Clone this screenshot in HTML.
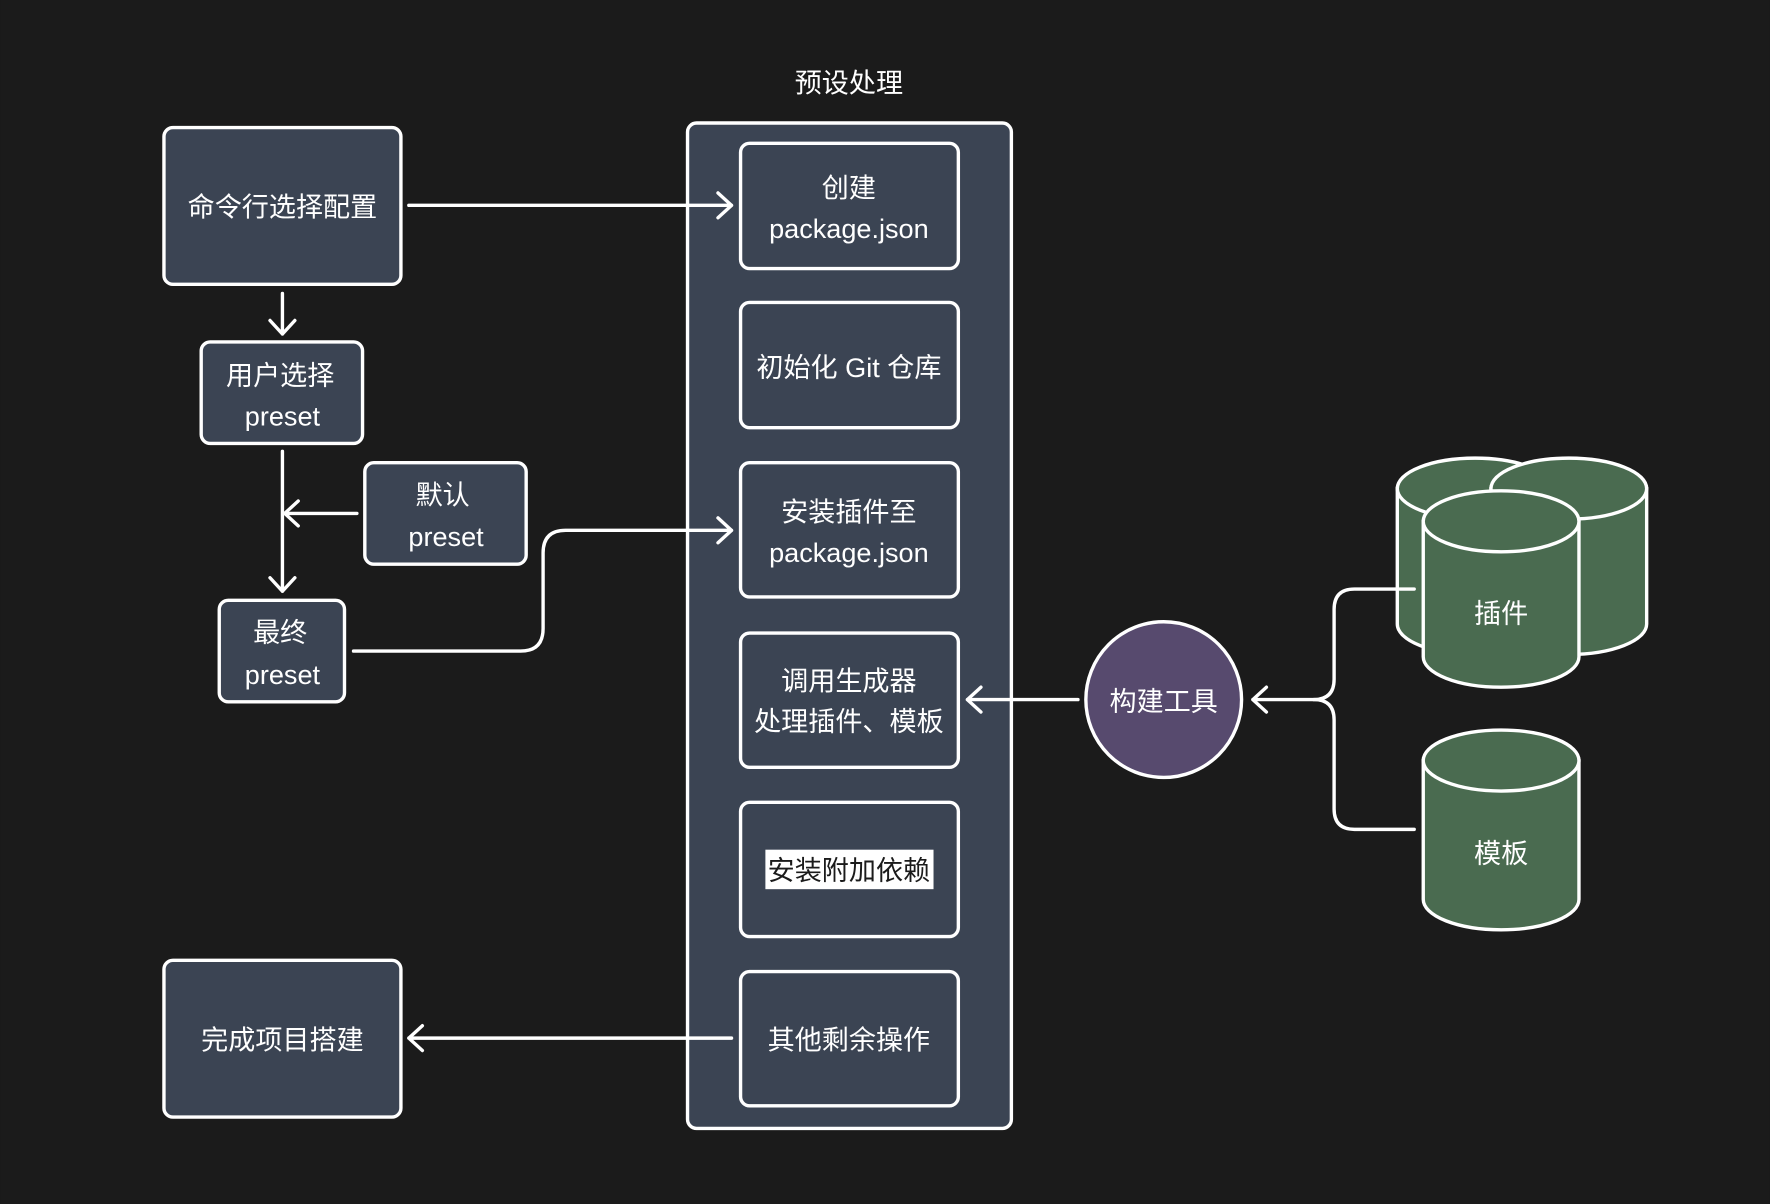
<!DOCTYPE html>
<html><head><meta charset="utf-8"><style>
html,body{margin:0;padding:0;background:#1b1b1b;}
svg{display:block;}
text{font-family:"Liberation Sans","Noto Sans CJK SC",sans-serif;fill:#ffffff;font-size:24px;text-anchor:middle;}
</style></head><body>
<svg width="1770" height="1204" viewBox="0 0 1568 1067" xmlns="http://www.w3.org/2000/svg">
<rect width="1568" height="1067" fill="#1b1b1b"/>
<g stroke="#fff" stroke-width="3" fill="#3b4453">
<rect x="609" y="109" width="287" height="891" rx="8"/>
<rect x="656" y="127" width="193" height="111" rx="8"/>
<rect x="656" y="268" width="193" height="111" rx="8"/>
<rect x="656" y="410" width="193" height="119" rx="8"/>
<rect x="656" y="561" width="193" height="119" rx="8"/>
<rect x="656" y="711" width="193" height="119" rx="8"/>
<rect x="656" y="861" width="193" height="119" rx="8"/>
<rect x="145" y="113" width="210" height="139" rx="8"/>
<rect x="178" y="303" width="143" height="90" rx="8"/>
<rect x="323" y="410" width="143" height="90" rx="8"/>
<rect x="194" y="532" width="111" height="90" rx="8"/>
<rect x="145" y="851" width="210" height="139" rx="8"/>
<circle cx="1031" cy="620" r="69" fill="#574a6e"/>
</g>
<g stroke="#fff" stroke-width="3" fill="#4a6b50">
<path d="M1238 433 v120 a69 27 0 0 0 138 0 v-120 z"/>
<ellipse cx="1307" cy="433" rx="69" ry="27"/>
<path d="M1321 433 v120 a69 27 0 0 0 138 0 v-120 z"/>
<ellipse cx="1390" cy="433" rx="69" ry="27"/>
<path d="M1261 462 v120 a69 27 0 0 0 138 0 v-120 z"/>
<ellipse cx="1330" cy="462" rx="69" ry="27"/>
<path d="M1261 674 v123 a69 27 0 0 0 138 0 v-123 z"/>
<ellipse cx="1330" cy="674" rx="69" ry="27"/>
</g>
<g stroke="#fff" stroke-width="3" fill="none" stroke-linecap="round" stroke-linejoin="round">
<path d="M362 182 H648 M636 171 L648 182 L636 193"/>
<path d="M250 260 V296 M239 284 L250 296 L261 284"/>
<path d="M250 400 V524 M239 512 L250 524 L261 512"/>
<path d="M316 455 H252 M264 444 L252 455 L264 466"/>
<path d="M313 577 H461 Q481 577 481 557 V490 Q481 470 501 470 H648 M636 459 L648 470 L636 481"/>
<path d="M955 620 H857 M869 609 L857 620 L869 631"/>
<path d="M1253 522 H1200 Q1182 522 1182 540 V602 Q1182 620 1164 620 H1110 M1122 609 L1110 620 L1122 631"/>
<path d="M1253 735 H1200 Q1182 735 1182 717 V638 Q1182 620 1164 620"/>
<path d="M648 920 H362 M374 909 L362 920 L374 931"/>
</g>
<text x="752" y="82">预设处理</text>
<text x="752" y="175">创建</text>
<text x="752" y="211">package.json</text>
<text x="752" y="334">初始化 Git 仓库</text>
<text x="752" y="462">安装插件至</text>
<text x="752" y="498">package.json</text>
<text x="752" y="612">调用生成器</text>
<text x="752" y="648">处理插件、模板</text>
<rect x="678" y="753" width="149" height="35" fill="#ffffff"/>
<text x="752" y="780" style="fill:#1b1b1b">安装附加依赖</text>
<text x="752" y="930">其他剩余操作</text>
<text x="250" y="192">命令行选择配置</text>
<text x="248" y="341">用户选择</text>
<text x="250" y="377">preset</text>
<text x="392" y="447">默认</text>
<text x="395" y="484">preset</text>
<text x="248" y="569">最终</text>
<text x="250" y="606">preset</text>
<text x="250" y="930">完成项目搭建</text>
<text x="1031" y="630">构建工具</text>
<text x="1330" y="552">插件</text>
<text x="1330" y="765">模板</text>
</svg>
</body></html>
